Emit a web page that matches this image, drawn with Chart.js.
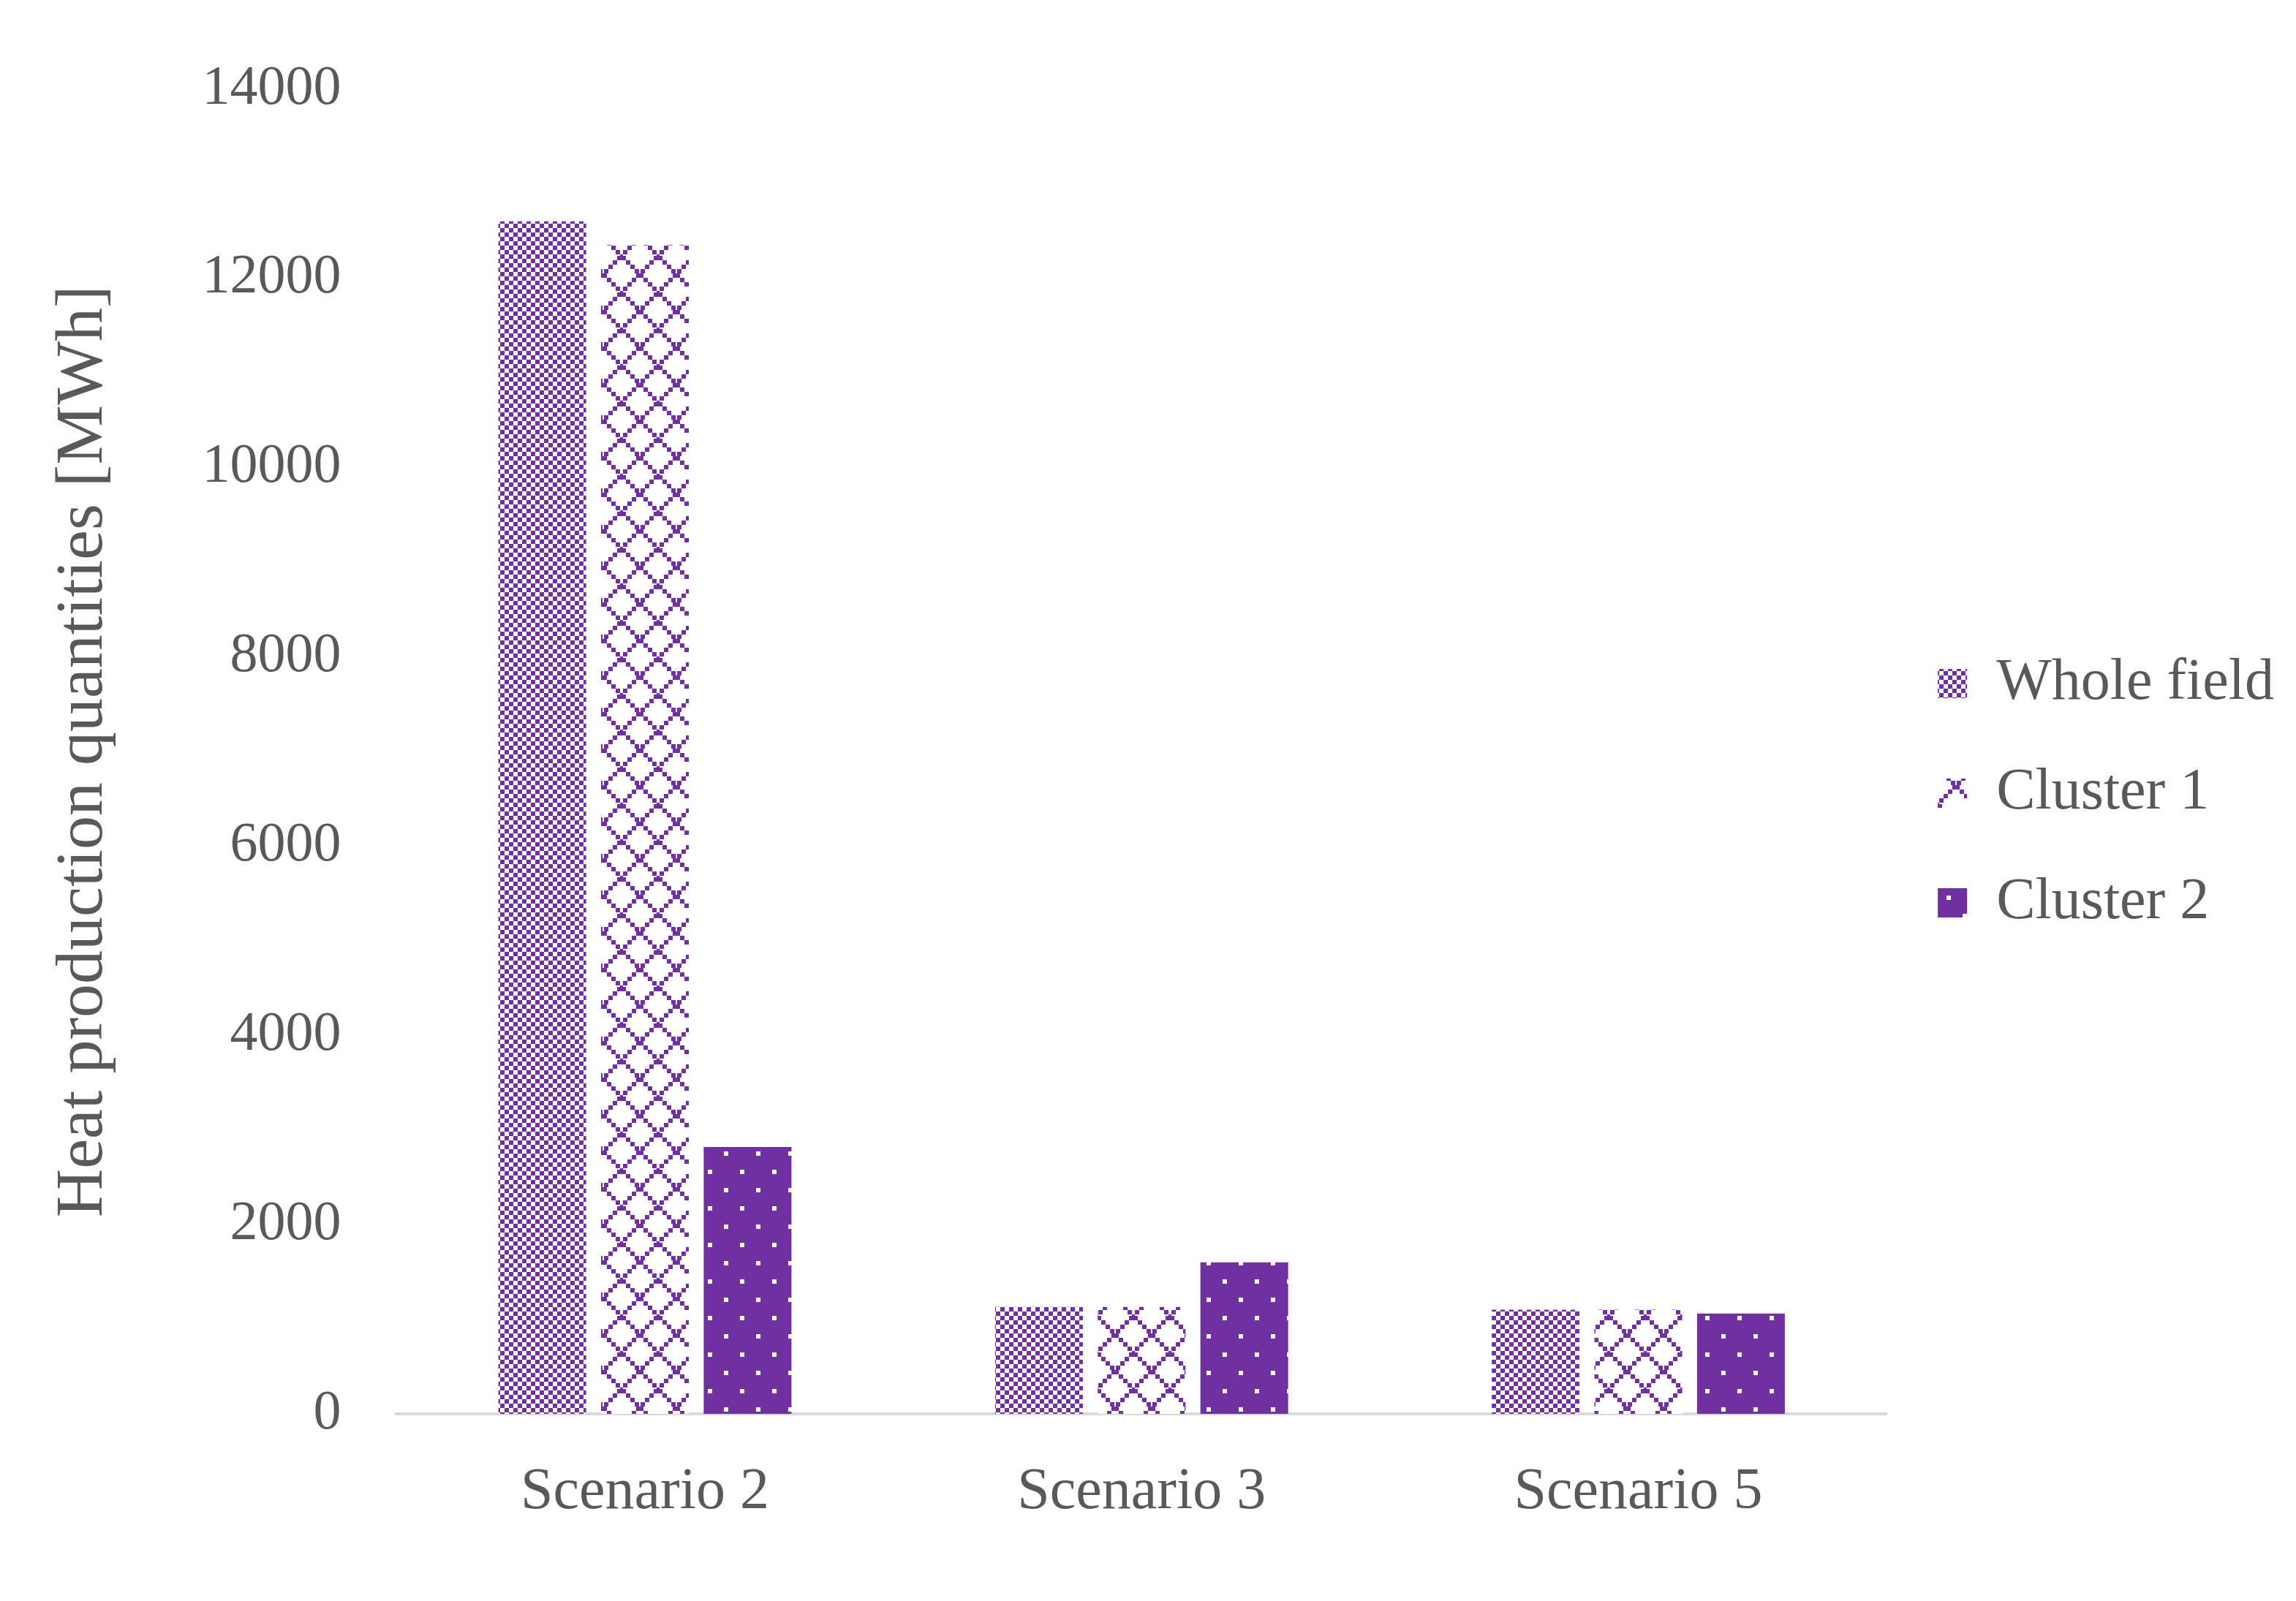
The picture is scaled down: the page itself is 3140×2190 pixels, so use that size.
<!DOCTYPE html>
<html><head><meta charset="utf-8">
<script src="https://cdn.jsdelivr.net/npm/chart.js@4/dist/chart.umd.min.js"></script>
<style>html,body{margin:0;background:#fff}#w{width:3140px;height:2190px}</style>
</head><body><div id="w"><canvas id="c"></canvas></div>
<script>
const categories = ["Scenario 2", "Scenario 3", "Scenario 5"];
const seriesNames = ["Whole field", "Cluster 1", "Cluster 2"];
const wholeField = [12600, 1130, 1100];
const cluster1 = [12350, 1130, 1100];
const cluster2 = [2820, 1600, 1060];
const yTicks = [0, 2000, 4000, 6000, 8000, 10000, 12000, 14000];

const P = '#7030A0';
function tile(w, h, draw) {
  const c = document.createElement('canvas'); c.width = w; c.height = h;
  const x = c.getContext('2d'); x.fillStyle = '#fff'; x.fillRect(0,0,w,h); x.fillStyle = P; draw(x);
  return document.getElementById('c').getContext('2d').createPattern(c, 'repeat');
}
const checker = tile(12, 12, x => { x.fillRect(0,0,6,6); x.fillRect(6,6,6,6); });
const diamond = tile(50, 50, x => {
  for (let i = 0; i < 9; i++) { x.fillRect(i*6, i*6, 6, 6); x.fillRect(44 - i*6, i*6, 6, 6); }
});
const dots = tile(44, 50, x => {
  x.fillRect(0,0,44,50); x.fillStyle = '#fff'; x.fillRect(0,0,6,6); x.fillRect(22,25,6,6);
});

const font = "'Liberation Serif', 'DejaVu Serif', serif";
new Chart(document.getElementById('c'), {
  type: 'bar',
  data: { labels: categories, datasets: [
    { label: seriesNames[0], data: wholeField, backgroundColor: checker },
    { label: seriesNames[1], data: cluster1, backgroundColor: diamond },
    { label: seriesNames[2], data: cluster2, backgroundColor: dots }
  ]},
  options: {
    responsive: true, maintainAspectRatio: false, animation: false,
    devicePixelRatio: 1,
    layout: { padding: { left: 30, right: 20, top: 20, bottom: 40 } },
    datasets: { bar: { categoryPercentage: 0.62, barPercentage: 0.855 } },
    scales: {
      x: { grid: { display: false, drawTicks: false }, border: { color: '#d9d9d9', width: 4 },
           ticks: { color: '#595959', font: { family: font, size: 80 }, padding: 60 } },
      y: { min: 0, max: 14000, afterBuildTicks: a => { a.ticks = yTicks.map(v => ({ value: v })); },
           grid: { display: false, drawTicks: false }, border: { display: false },
           ticks: { color: '#595959', font: { family: font, size: 76 }, padding: 76,
                    callback: v => String(v) },
           title: { display: true, text: 'Heat production quantities [MWh]', color: '#595959',
                    font: { family: font, size: 92 }, padding: 30 } }
    },
    plugins: {
      legend: { position: 'right', align: 'center',
        labels: { color: '#595959', font: { family: font, size: 80 }, boxWidth: 40, boxHeight: 40, padding: 70 } },
      tooltip: { enabled: false }
    }
  }
});
</script></body></html>
